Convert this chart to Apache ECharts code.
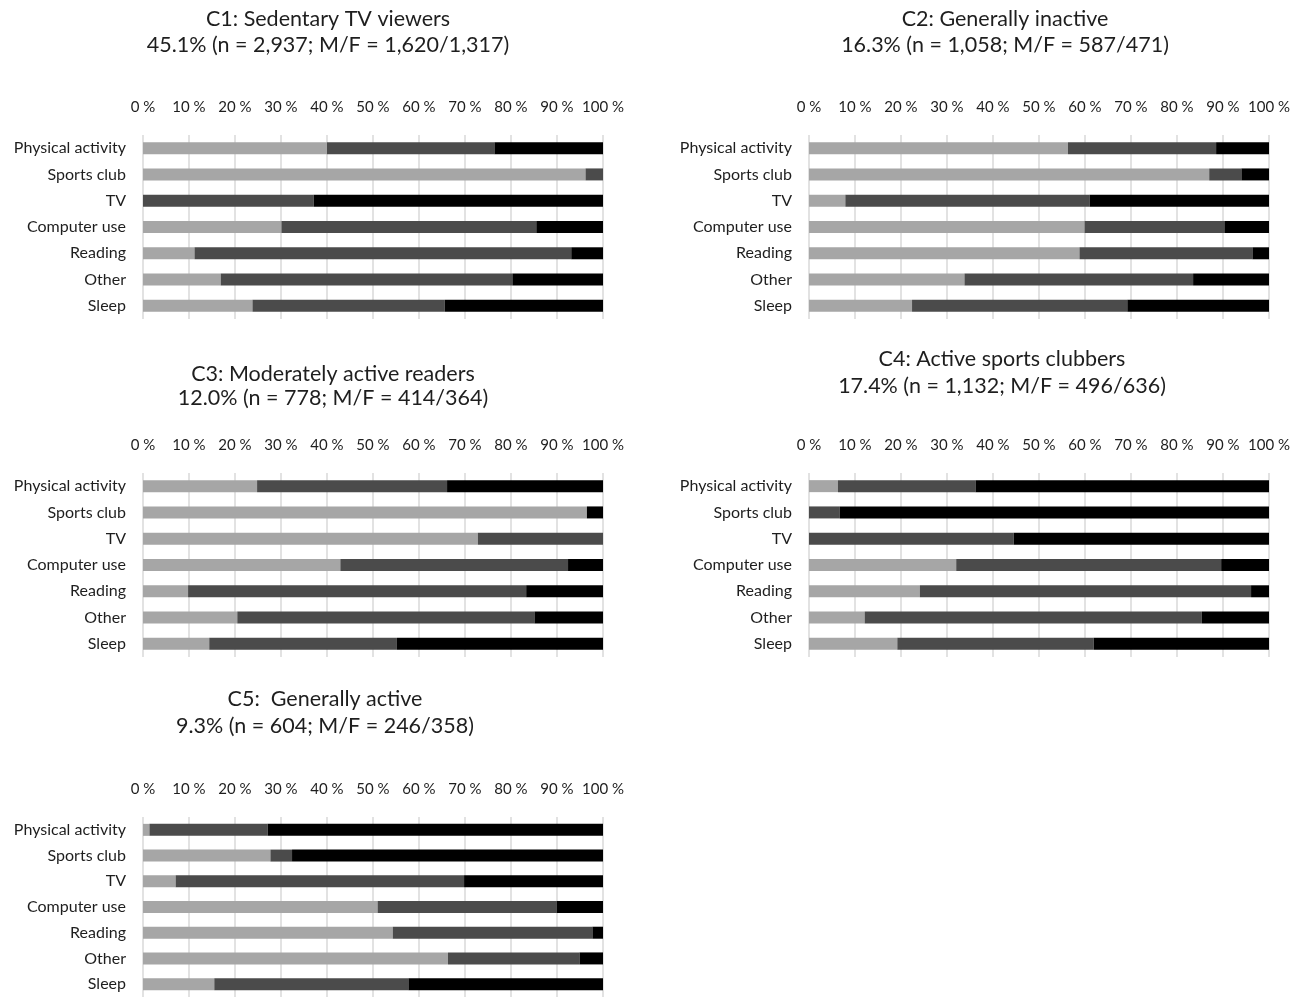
<!DOCTYPE html>
<html>
<head>
<meta charset="utf-8">
<script src="https://cdn.jsdelivr.net/npm/echarts@6/dist/echarts.min.js"></script>
<style>
html,body{margin:0;padding:0;background:#fff;}
#chart{width:1305px;height:997px;}
</style>
</head>
<body>
<div id="chart"></div>
<script>
// ---- Data (percent of cluster members per level: low / medium / high) ----
const categories = ["Physical activity", "Sports club", "TV", "Computer use", "Reading", "Other", "Sleep"];

const c1Low  = [40.0, 96.2, 0.0, 30.1, 11.2, 16.9, 23.8];
const c1Mid  = [36.4, 3.8, 37.1, 55.4, 81.9, 63.4, 41.8];
const c1High = [23.6, 0.0, 62.9, 14.5, 6.9, 19.7, 34.4];

const c2Low  = [56.3, 87.0, 7.9, 59.9, 58.8, 33.8, 22.4];
const c2Mid  = [32.2, 7.0, 53.1, 30.4, 37.6, 49.7, 46.8];
const c2High = [11.5, 6.0, 39.0, 9.7, 3.6, 16.5, 30.8];

const c3Low  = [24.8, 96.5, 72.8, 42.9, 9.8, 20.5, 14.4];
const c3Mid  = [41.3, 0.0, 27.2, 49.5, 73.5, 64.6, 40.8];
const c3High = [33.9, 3.5, 0.0, 7.6, 16.7, 14.9, 44.8];

const c4Low  = [6.3, 0.0, 0.0, 32.0, 24.1, 12.1, 19.2];
const c4Mid  = [29.9, 6.7, 44.5, 57.6, 72.0, 73.3, 42.7];
const c4High = [63.8, 93.3, 55.5, 10.4, 3.9, 14.6, 38.1];

const c5Low  = [1.4, 27.7, 7.1, 51.0, 54.3, 66.3, 15.5];
const c5Mid  = [25.7, 4.7, 62.7, 38.9, 43.4, 28.6, 42.2];
const c5High = [72.9, 67.6, 30.2, 10.1, 2.3, 5.1, 42.3];

const titleLines1 = ["C1: Sedentary TV viewers", "C2: Generally inactive", "C3: Moderately active readers", "C4: Active sports clubbers", "C5:  Generally active"];
const titleLines2 = ["45.1% (n = 2,937; M/F = 1,620/1,317)", "16.3% (n = 1,058; M/F = 587/471)", "12.0% (n = 778; M/F = 414/364)", "17.4% (n = 1,132; M/F = 496/636)", "9.3% (n = 604; M/F = 246/358)"];
const levelNames = ["Low", "Medium", "High"];

// ---- Layout ----
const panels = [
  {low: c1Low, mid: c1Mid, high: c1High, left: 143, top: 135, tx: 328, t1: 19, t2: 45},
  {low: c2Low, mid: c2Mid, high: c2High, left: 809, top: 135, tx: 1005, t1: 19, t2: 45},
  {low: c3Low, mid: c3Mid, high: c3High, left: 143, top: 473, tx: 333, t1: 374, t2: 398},
  {low: c4Low, mid: c4Mid, high: c4High, left: 809, top: 473, tx: 1002, t1: 359, t2: 386},
  {low: c5Low, mid: c5Mid, high: c5High, left: 143, top: 817, tx: 325, t1: 699, t2: 726}
];
const FONT = "Lato, 'Open Sans', sans-serif";
const TXT = "#1e1e1e";
const colors = ["#a6a6a6", "#4b4b4b", "#000000"];

const grid = [], xAxis = [], yAxis = [], series = [], graphic = [];
panels.forEach((p, i) => {
  grid.push({left: p.left, top: p.top, width: 460, height: 184, containLabel: false});
  xAxis.push({
    type: "value", gridIndex: i, min: 0, max: 100, interval: 10, position: "top",
    axisLine: {show: false}, axisTick: {show: false},
    axisLabel: {formatter: "{value} %", fontFamily: FONT, fontSize: 15, color: TXT, margin: 20},
    splitLine: {show: true, lineStyle: {color: "#d9d9d9", width: 1.5}}
  });
  yAxis.push({
    type: "category", gridIndex: i, data: categories, inverse: true,
    axisLine: {show: false}, axisTick: {show: false},
    axisLabel: {fontFamily: FONT, fontSize: 16, color: TXT, margin: 17},
    splitLine: {show: false}
  });
  [p.low, p.mid, p.high].forEach((arr, k) => {
    series.push({
      name: levelNames[k], type: "bar", stack: "s" + i, xAxisIndex: i, yAxisIndex: i,
      data: arr, barWidth: 12, itemStyle: {color: colors[k]}, silent: true
    });
  });
  [[titleLines1[i], p.t1], [titleLines2[i], p.t2]].forEach(([t, y]) => {
    graphic.push({
      type: "text", x: p.tx, y: y,
      style: {text: t, fill: TXT, font: "21.5px " + FONT,
              textAlign: "center", textVerticalAlign: "middle",
              align: "center", verticalAlign: "middle"}
    });
  });
});

const chart = echarts.init(document.getElementById("chart"));
chart.setOption({
  animation: false,
  backgroundColor: "#ffffff",
  grid, xAxis, yAxis, series, graphic
});
</script>
</body>
</html>
